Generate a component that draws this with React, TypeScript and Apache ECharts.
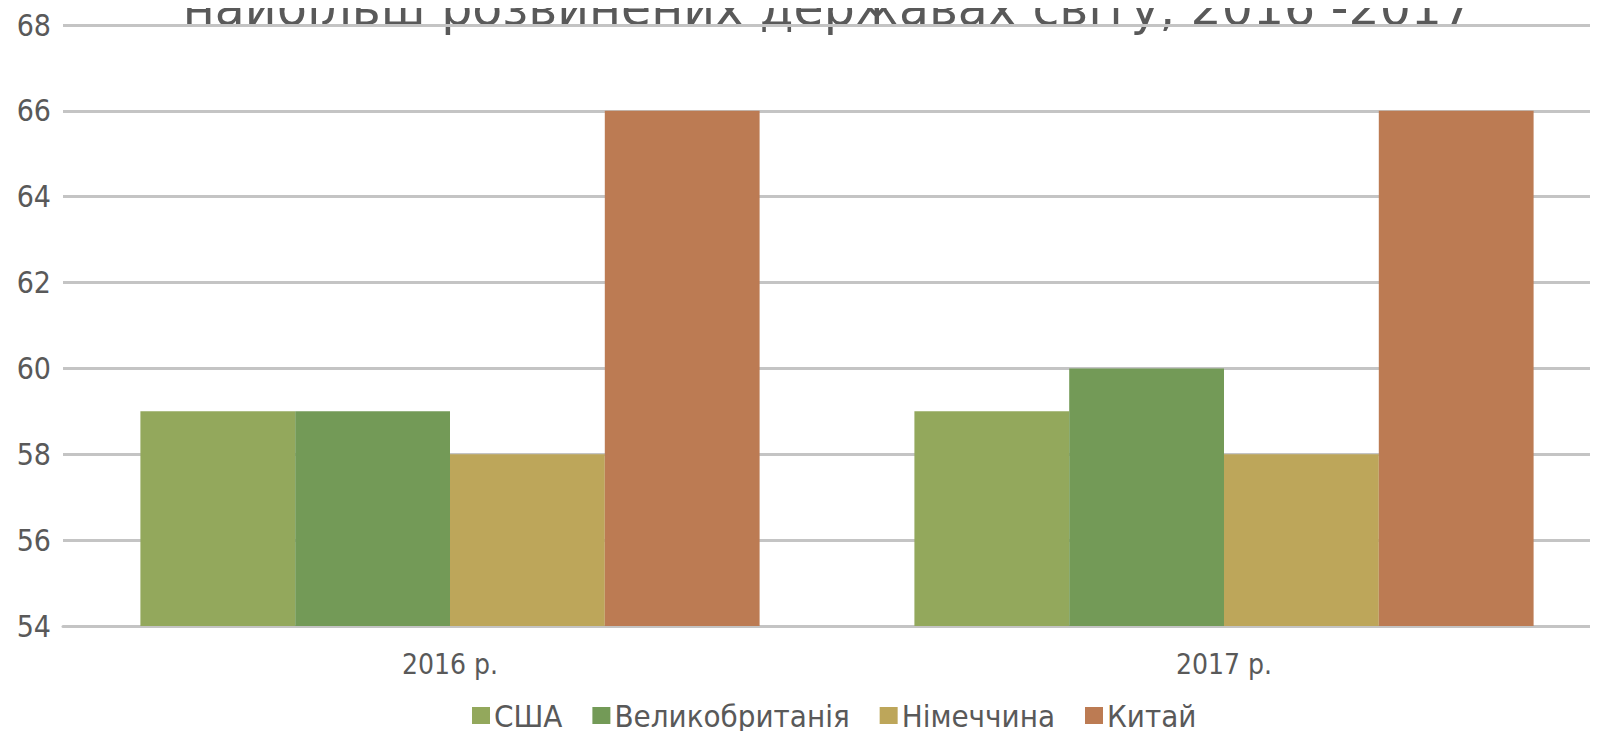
import React, { useEffect, useRef } from "react";
import * as echarts from "echarts";

const categories = ["2016 р.", "2017 р."];
const seriesNames = ["США", "Великобританія", "Німеччина", "Китай"];
const usa = [59, 59];
const uk = [59, 60];
const germany = [58, 58];
const china = [66, 66];
const colors = ["#93A85C", "#739A57", "#BDA65A", "#BC7B53"];
const titleText = "найбільш розвинених державах світу, 2016 -2017";

export default function App() {
  const ref = useRef<HTMLDivElement>(null);
  useEffect(() => {
    if (!ref.current) return;
    const chart = echarts.init(ref.current, undefined, { renderer: "svg" });
    const values = [usa, uk, germany, china];
    chart.setOption({
      animation: false,
      color: colors,
      graphic: [
        {
          type: "text",
          x: 828,
          y: 8,
          style: {
            text: titleText,
            fontSize: 49,
            fontFamily: "DejaVu Sans",
            fill: "#595959",
            align: "center",
            verticalAlign: "middle",
          },
        },
      ],
      legend: {
        bottom: 3,
        left: 467,
        icon: "rect",
        itemWidth: 18,
        itemHeight: 17,
        itemGap: 30,
        textStyle: {
          fontSize: 31,
          fontFamily: "DejaVu Sans Condensed",
          color: "#595959",
          padding: [0, 0, 0, -1],
        },
        data: seriesNames,
      },
      grid: { left: 63, right: 0, top: 25, bottom: 113, containLabel: false },
      xAxis: {
        type: "category",
        data: categories,
        axisLine: { lineStyle: { color: "#c4c4c4", width: 3 } },
        axisTick: { show: false },
        axisLabel: {
          fontSize: 28,
          fontFamily: "DejaVu Sans Condensed",
          color: "#595959",
          margin: 24,
        },
      },
      yAxis: {
        type: "value",
        min: 54,
        max: 68,
        interval: 2,
        axisLine: { show: false },
        axisTick: { show: false },
        axisLabel: {
          fontSize: 30,
          fontFamily: "DejaVu Sans Condensed",
          color: "#595959",
          margin: 12,
        },
        splitLine: { lineStyle: { color: "#c4c4c4", width: 3 } },
      },
      series: seriesNames.map((name, i) => ({
        name,
        type: "bar",
        data: values[i],
        barGap: "0%",
        barCategoryGap: "20%",
        itemStyle: { color: colors[i] },
      })),
    });
    return () => chart.dispose();
  }, []);
  return (
    <div style={{ width: 1598, height: 739, margin: -8, overflow: "hidden", position: "relative" }}>
      <div ref={ref} style={{ width: 1611, height: 739 }} />
    </div>
  );
}
